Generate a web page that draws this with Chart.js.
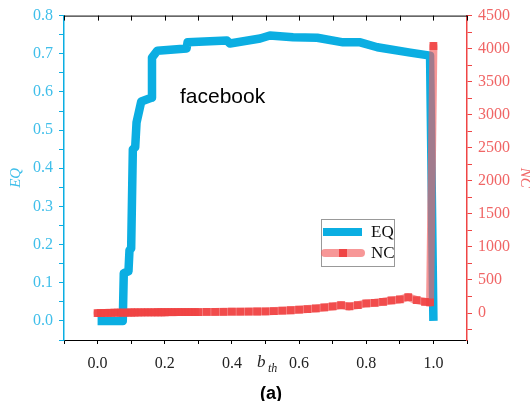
<!DOCTYPE html>
<html>
<head>
<meta charset="utf-8">
<script src="https://cdn.jsdelivr.net/npm/chart.js@4.4.0/dist/chart.umd.min.js"></script>
<style>
  html, body { margin: 0; padding: 0; background: #fff; }
  #wrap { width: 530px; height: 401px; position: relative; }
</style>
</head>
<body>
<div id="wrap"><canvas id="chart"></canvas></div>
<script>
// EQ curve (left axis)
const eqX = [0, 0.075, 0.078, 0.092, 0.095, 0.1, 0.105, 0.112, 0.116, 0.13, 0.16, 0.162, 0.178, 0.265, 0.268,
             0.385, 0.394, 0.484, 0.513, 0.582, 0.654, 0.731, 0.782, 0.833, 0.931, 0.99, 1.0];
const eqY = [0, 0, 0.125, 0.13, 0.185, 0.19, 0.45, 0.455, 0.52, 0.575, 0.585, 0.69, 0.708, 0.714, 0.73,
             0.735, 0.727, 0.74, 0.748, 0.743, 0.742, 0.73, 0.73, 0.717, 0.703, 0.695, 0.0];

// NC curve (right axis)
const ncX = [0, 0.01, 0.02, 0.03, 0.04, 0.05, 0.06, 0.07, 0.08, 0.09, 0.1, 0.11, 0.12, 0.13, 0.14, 0.15,
             0.16, 0.17, 0.18, 0.19, 0.2, 0.21, 0.22, 0.23, 0.24, 0.25, 0.26, 0.27, 0.28, 0.29, 0.3,
             0.325, 0.35, 0.375, 0.4, 0.425, 0.45, 0.475, 0.5, 0.525, 0.55, 0.575, 0.6, 0.625, 0.65,
             0.675, 0.7, 0.725, 0.75, 0.775, 0.8, 0.825, 0.85, 0.875, 0.9, 0.925, 0.95, 0.975, 0.99, 1.0];
const ncY = [0, 0, 2, 3, 4, 5, 5, 6, 6, 7, 8, 8, 9, 9, 10, 10,
             11, 11, 12, 12, 12, 13, 13, 13, 14, 14, 14, 15, 15, 15, 15,
             16, 17, 18, 20, 21, 22, 23, 25, 30, 35, 42, 50, 60, 70,
             85, 100, 118, 100, 120, 145, 155, 170, 190, 205, 240, 195, 170, 160, 4040];

// labelled ticks
const xLabelTicks = [0, 0.2, 0.4, 0.6, 0.8, 1.0];
const eqLabelTicks = [0, 0.1, 0.2, 0.3, 0.4, 0.5, 0.6, 0.7, 0.8];
const ncLabelTicks = [0, 500, 1000, 1500, 2000, 2500, 3000, 3500, 4000, 4500];

const CYAN = '#0BAEE2';
const CYAN_TXT = '#40BFEA';
const RED = '#EF4545';
const RED_TXT = '#F06565';
const PINK = 'rgba(242, 95, 95, 0.65)';
const SERIF = "'Liberation Serif', serif";
const SANS = "'Liberation Sans', Arial, sans-serif";

function pick(list, v, decimals) {
    const hit = list.find(t => Math.abs(t - v) < 1e-6);
    return hit === undefined ? '' : hit.toFixed(decimals);
}

// titles, top frame and legend
const extras = {
    id: 'extras',
    afterDraw(chart) {
        const ctx = chart.ctx;
        const area = chart.chartArea;
        const x = chart.scales.x;
        ctx.save();

        // top frame with inward ticks
        ctx.strokeStyle = '#000';
        ctx.lineWidth = 1;
        ctx.beginPath();
        ctx.moveTo(area.left, area.top + 0.5);
        ctx.lineTo(area.right, area.top + 0.5);
        x.ticks.forEach(t => {
            const px = Math.round(x.getPixelForValue(t.value)) + 0.5;
            ctx.moveTo(px, area.top);
            ctx.lineTo(px, area.top + 5);
        });
        ctx.stroke();

        // x title b_th
        ctx.fillStyle = '#222';
        ctx.textBaseline = 'alphabetic';
        ctx.textAlign = 'left';
        ctx.font = 'italic 17px ' + SERIF;
        ctx.fillText('b', 257, 367);
        ctx.font = 'italic 12px ' + SERIF;
        ctx.fillText('th', 268, 372);

        // panel label
        ctx.fillStyle = '#000';
        ctx.textAlign = 'center';
        ctx.textBaseline = 'middle';
        ctx.font = 'bold 18px ' + SANS;
        ctx.fillText('(a)', 271, 394);

        // network name
        ctx.textAlign = 'left';
        ctx.font = '21px ' + SANS;
        ctx.fillText('facebook', 180, 97);

        // legend
        ctx.fillStyle = '#fff';
        ctx.fillRect(321, 219, 73, 47);
        ctx.strokeStyle = '#999';
        ctx.strokeRect(321.5, 219.5, 73, 47);

        ctx.lineCap = 'butt';
        ctx.strokeStyle = CYAN;
        ctx.lineWidth = 8;
        ctx.beginPath();
        ctx.moveTo(323, 232);
        ctx.lineTo(362, 232);
        ctx.stroke();

        ctx.lineCap = 'round';
        ctx.strokeStyle = PINK;
        ctx.beginPath();
        ctx.moveTo(325, 253);
        ctx.lineTo(361, 253);
        ctx.stroke();
        ctx.fillStyle = RED;
        ctx.fillRect(339, 249, 8, 8);

        ctx.fillStyle = '#111';
        ctx.font = '17px ' + SERIF;
        ctx.textAlign = 'left';
        ctx.fillText('EQ', 371, 233);
        ctx.fillText('NC', 371, 254);

        ctx.restore();
    }
};

new Chart(document.getElementById('chart'), {
    type: 'scatter',
    data: {
        datasets: [
            {
                label: 'EQ',
                data: eqX.map((v, i) => ({ x: v, y: eqY[i] })),
                yAxisID: 'y',
                showLine: true,
                borderColor: CYAN,
                borderWidth: 8.5,
                borderJoinStyle: 'round',
                pointRadius: 0,
                order: 1
            },
            {
                label: 'NC',
                data: ncX.map((v, i) => ({ x: v, y: ncY[i] })),
                yAxisID: 'y2',
                showLine: true,
                borderColor: PINK,
                borderWidth: 8,
                borderCapStyle: 'round',
                borderJoinStyle: 'round',
                pointStyle: 'rect',
                pointRadius: 5.5,
                pointBorderWidth: 0,
                pointBackgroundColor: 'rgba(239, 68, 68, 0.9)',
                order: 0
            }
        ]
    },
    options: {
        responsive: true,
        maintainAspectRatio: false,
        animation: false,
        layout: { padding: { top: 15, left: 0, right: 0, bottom: 0 } },
        plugins: {
            legend: { display: false },
            tooltip: { enabled: false }
        },
        scales: {
            x: {
                type: 'linear',
                min: -0.1,
                max: 1.1,
                afterFit: s => { s.height = 61; },
                border: { color: '#000', width: 1 },
                grid: { drawOnChartArea: false, drawTicks: true, tickLength: 4, color: '#000' },
                ticks: {
                    stepSize: 0.1,
                    maxRotation: 0,
                    autoSkip: false,
                    padding: 10,
                    color: '#222',
                    font: { family: SERIF, size: 16 },
                    callback: v => pick(xLabelTicks, v, 1)
                }
            },
            y: {
                position: 'left',
                min: -0.05,
                max: 0.8,
                afterFit: s => { s.width = 64; },
                border: { color: CYAN, width: 1.5 },
                grid: { drawOnChartArea: false, drawTicks: true, tickLength: 5, color: CYAN },
                ticks: {
                    stepSize: 0.05,
                    autoSkip: false,
                    padding: 6,
                    color: CYAN_TXT,
                    font: { family: SERIF, size: 16 },
                    callback: v => pick(eqLabelTicks, v, 1)
                },
                title: {
                    display: true,
                    text: 'EQ',
                    color: CYAN_TXT,
                    font: { family: SERIF, size: 15, style: 'italic', lineHeight: 1 },
                    padding: { top: 9, bottom: 0 }
                }
            },
            y2: {
                position: 'right',
                min: -408,
                max: 4500,
                afterFit: s => { s.width = 63; },
                border: { color: RED, width: 1.5 },
                grid: { drawOnChartArea: false, drawTicks: true, tickLength: 5, color: RED },
                ticks: {
                    stepSize: 250,
                    includeBounds: false,
                    autoSkip: false,
                    padding: 6,
                    color: RED_TXT,
                    font: { family: SERIF, size: 16 },
                    callback: v => pick(ncLabelTicks, v, 0)
                },
                title: {
                    display: true,
                    text: 'NC',
                    color: RED_TXT,
                    font: { family: SERIF, size: 15, style: 'italic', lineHeight: 1 },
                    padding: { top: -2, bottom: 0 }
                }
            }
        }
    },
    plugins: [extras]
});
</script>
</body>
</html>
